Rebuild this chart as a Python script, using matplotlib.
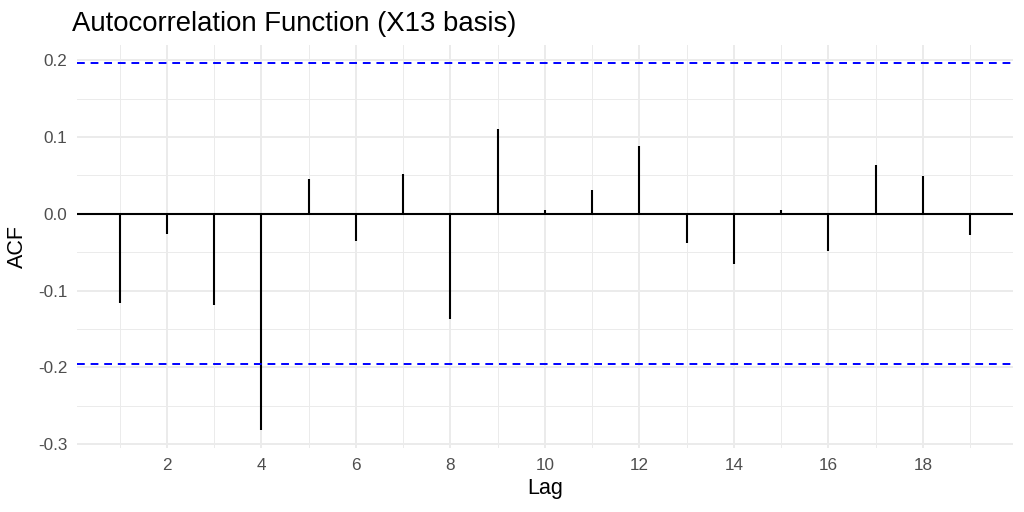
import matplotlib
matplotlib.use("Agg")
import matplotlib.pyplot as plt
from matplotlib.ticker import FixedLocator

lags = list(range(1, 20))
acf = [-0.116, -0.026, -0.119, -0.281, 0.046, -0.035, 0.052, -0.137, 0.110,
       0.005, 0.031, 0.089, -0.038, -0.065, 0.005, -0.048, 0.064, 0.049, -0.028]
ci = 0.196
title = "Autocorrelation Function (X13 basis)"
xlabel = "Lag"
ylabel = "ACF"
xticks = [2, 4, 6, 8, 10, 12, 14, 16, 18]
yticks = [-0.3, -0.2, -0.1, 0.0, 0.1, 0.2]
yticklabels = ["-0.3", "-0.2", "-0.1", "0.0", "0.1", "0.2"]

plt.rcParams['font.family'] = ['Liberation Sans', 'DejaVu Sans']

fig = plt.figure(figsize=(10.24, 5.12), dpi=100)
ax = fig.add_axes([0.0752, 0.125, 0.9138, 0.787])

# ranges with ggplot-like 5% expansion
xmin, xmax = min(lags), max(lags)
xr = xmax - xmin
ax.set_xlim(xmin - 0.05 * xr, xmax + 0.05 * xr)
ymin, ymax = min(min(acf), -ci), max(max(acf), ci)
yr = ymax - ymin
ax.set_ylim(ymin - 0.05 * yr, ymax + 0.05 * yr)

ax.set_xticks(xticks)
ax.xaxis.set_minor_locator(FixedLocator([x - 1 for x in xticks] + [xticks[-1] + 1]))
ax.set_yticks(yticks)
ax.yaxis.set_minor_locator(FixedLocator([-0.25, -0.15, -0.05, 0.05, 0.15]))
ax.set_yticklabels(yticklabels)

ax.grid(which='major', color='#EBEBEB', linewidth=1.4)
ax.grid(which='minor', color='#EBEBEB', linewidth=0.7)
ax.set_axisbelow(True)
for s in ax.spines.values():
    s.set_visible(False)
ax.tick_params(which='both', length=0)
ax.tick_params(axis='both', labelsize=12.3, colors='#4D4D4D', pad=7)

ax.axhline(0, color='black', linewidth=1.5, zorder=2)
ax.vlines(lags, 0, acf, color='black', linewidth=1.5, zorder=3)
for c in (ci, -ci):
    ax.axhline(c, color='blue', linewidth=1.4, linestyle=(0, (4, 3)), zorder=3)

ax.set_xlabel(xlabel, fontsize=15.5, color='black', labelpad=4)
ax.set_ylabel(ylabel, fontsize=15.5, color='black', labelpad=7)
fig.text(0.0705, 0.94, title, fontsize=19.8, color='black', ha='left', va='baseline')

fig.savefig("out.png", dpi=100)
